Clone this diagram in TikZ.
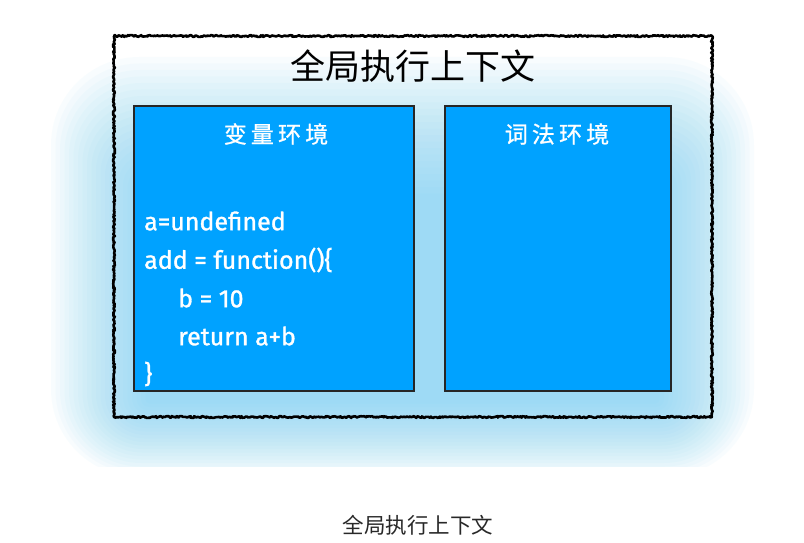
\documentclass[tikz,border=0pt]{standalone}
\usepackage{fontspec}
\setmainfont{Fira Sans}
\newfontfamily\cjk{Noto Sans CJK SC}
\usetikzlibrary{decorations.pathmorphing}
\definecolor{boxblue}{RGB}{0,162,255}
\definecolor{glowblue}{RGB}{110,205,245}
\definecolor{captiongray}{RGB}{40,40,40}
\tikzset{
  envbox/.style={draw=black!85, line width=1.6pt, fill=boxblue},
  sketchy/.style={draw=black, line width=2.6pt, line join=round, line cap=round, decorate, decoration={random steps, segment length=1.2pt, amplitude=0.9pt}},
  envlabel/.style={text=white, font=\cjk\fontsize{23}{26}\selectfont\addfontfeatures{LetterSpace=18,FakeBold=1}},
  codeline/.style={text=white, anchor=west, inner sep=0pt, font=\fontsize{25}{28}\selectfont\addfontfeatures{FakeBold=1.2}},
}
\begin{document}
\begin{tikzpicture}[x=1pt,y=-1pt]
\useasboundingbox (0,0) rectangle (804,543);
\fill[white] (0,0) rectangle (804,543);
% glow
\begin{scope}
\clip (0,0) rectangle (804,466);
\foreach \i in {1,...,22}{
  \fill[glowblue, opacity=0.045, rounded corners=\i*4pt] (150-\i*4.5, 200-\i*6.5) rectangle (655+\i*4.5, 400+\i*3.5);
}
\end{scope}
% outer sketchy box
\draw[sketchy] (114,36) -- (712,36);
\draw[sketchy] (712,36) -- (712,417);
\draw[sketchy] (712,417) -- (114,417);
\draw[sketchy] (114,417) -- (114,36);
\node[font=\cjk\fontsize{35}{38}\selectfont] (title) at (413,66) {全局执行上下文};
% env boxes
\draw[envbox] (134,106) rectangle (414,391);
\draw[envbox] (445,106) rectangle (671,391);
\node[envlabel] (varlabel) at (276,134) {变量环境};
\node[envlabel] (lexlabel) at (557,134) {词法环境};
% code
\node[codeline] (c1) at (144,221) {a=undefined};
\node[codeline] (c2) at (144,260) {add = function()\{};
\node[codeline] (c3) at (178,298) {b = 10};
\node[codeline] (c4) at (178,336) {return a+b};
\node[codeline] (c5) at (144,374) {\}};
% caption
\node[text=captiongray, font=\cjk\fontsize{21.5}{24}\selectfont] (caption) at (418,525) {全局执行上下文};
\end{tikzpicture}
\end{document}
